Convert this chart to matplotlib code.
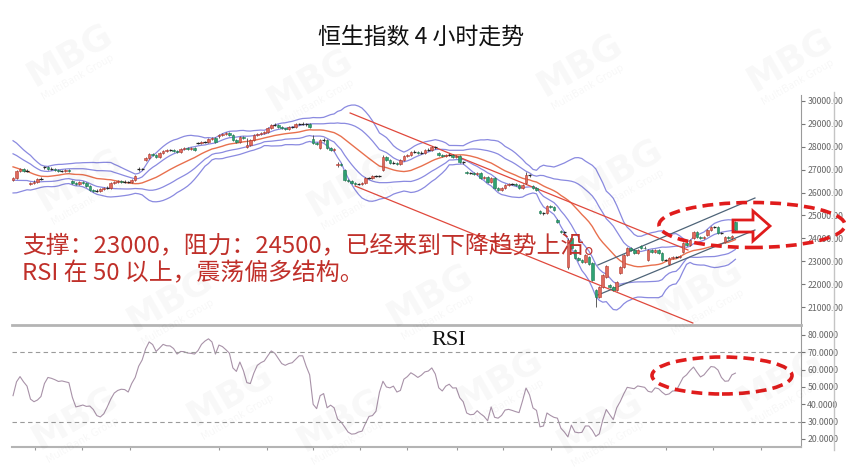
import matplotlib
matplotlib.use("Agg")
import matplotlib.pyplot as plt
from matplotlib.patches import Ellipse, Polygon
from matplotlib.lines import Line2D
import numpy as np
import pandas as pd

title = "恒生指数 4 小时走势"
note_lines = ["支撑：23000，阻力：24500，已经来到下降趋势上沿。",
              "RSI 在 50 以上，震荡偏多结构。"]

# closes before the visible window (only feed the band calculation)
history_closes = [27900, 28050, 27950, 27800, 27700, 27750, 27550, 27400, 27300, 27100,
                  26700, 26600, 26500, 26400, 26500, 26700, 26800, 26650, 26500]

opens = [26560, 26640, 26940, 27030, 26940, 26380, 26420, 26460, 26590, 27110,
         27120, 27030, 27040, 26990, 26940, 26950, 26990, 26520, 26420, 26380,
         26460, 26420, 26290, 26110, 26070, 26080, 26160, 26200, 26210, 26420,
         26460, 26510, 26460, 26470, 26460, 26560, 27020, 27030, 27420, 27510,
         27690, 27640, 27550, 27730, 27820, 27860, 27850, 27820, 27770, 27900,
         27950, 27900, 27940, 28160, 28170, 28210, 28200, 28340, 28380, 28450,
         28520, 28560, 28600, 28510, 28300, 28210, 28430, 27990, 28080, 28300,
         28520, 28560, 28600, 28650, 28820, 28950, 28960, 28870, 28820, 28780,
         28870, 28860, 29000, 28990, 29000, 28990, 28340, 28180, 27950, 28300,
         28290, 27950, 27860, 27210, 27250, 26990, 26550, 26510, 26420, 26380,
         26370, 26420, 26640, 26630, 26720, 26730, 26990, 27550, 27420, 27290,
         27300, 27250, 27420, 27600, 27640, 27770, 27780, 27730, 27740, 27860,
         27870, 27990, 27730, 27640, 27600, 27640, 27650, 27550, 27600, 27340,
         26900, 26860, 26850, 26810, 26860, 26640, 26680, 26460, 26640, 26200,
         26110, 26200, 26330, 26380, 26370, 26330, 26200, 26420, 26770, 26290,
         26200, 25190, 25110, 25100, 25420, 25370, 24810, 24330, 24280, 22750,
         24020, 23490, 23140, 23060, 22970, 23190, 22930, 21750, 21440, 21880,
         22310, 21960, 21880, 21750, 22500, 22750, 23280, 23560, 23490, 23360,
         23680, 23600, 23060, 23490, 23410, 23490, 23360, 23060, 22880, 23140,
         23190, 23180, 23410, 23800, 23710, 24020, 24280, 24060, 24020, 24150,
         24370, 24500, 24500, 24240, 23840, 24060, 24020, 24720]

highs = [26700, 27000, 27090, 27080, 27010, 26480, 26530, 26640, 26660, 27180,
         27160, 27100, 27090, 27040, 27000, 27050, 27040, 26570, 26470, 26520,
         26510, 26460, 26330, 26160, 26140, 26210, 26260, 26270, 26470, 26520,
         26570, 26560, 26530, 26520, 26610, 26780, 27110, 27090, 27570, 27740,
         27750, 27690, 27790, 27880, 27920, 27910, 27900, 27870, 27950, 28010,
         28000, 28000, 27990, 28230, 28270, 28260, 28390, 28440, 28420, 28580,
         28620, 28660, 28650, 28550, 28350, 28480, 28480, 28390, 28350, 28570,
         28620, 28660, 28710, 28870, 29010, 29020, 29000, 28920, 28840, 28930,
         28920, 29060, 29060, 29070, 29050, 29040, 28500, 28230, 28360, 28370,
         28330, 28000, 27960, 27320, 27300, 27040, 26600, 26560, 26470, 26440,
         26480, 26690, 26700, 26780, 26790, 26780, 27650, 27600, 27460, 27360,
         27350, 27470, 27650, 27700, 27820, 27840, 27830, 27800, 27910, 27930,
         28050, 28040, 27780, 27690, 27700, 27710, 27700, 27660, 27640, 27400,
         26950, 26910, 26900, 26920, 26900, 26740, 26720, 26700, 26680, 26250,
         26260, 26380, 26440, 26430, 26420, 26370, 26380, 26880, 26830, 26340,
         26250, 25240, 25170, 25470, 25470, 25420, 24860, 24380, 24340, 24000,
         24070, 23540, 23190, 23110, 23330, 23240, 22980, 21800, 21940, 22450,
         22850, 22010, 21930, 22150, 22800, 23330, 23610, 23610, 23530, 23550,
         23730, 23650, 23540, 23540, 23540, 23530, 23400, 23110, 23190, 23250,
         23240, 23290, 23850, 23850, 23980, 24330, 24320, 24110, 24120, 24420,
         24550, 24560, 24550, 24290, 24110, 24110, 24160, 24770]

lows = [26500, 26600, 26900, 26890, 26880, 26320, 26380, 26420, 26530, 27050,
        26980, 26990, 26940, 26890, 26890, 26910, 26880, 26370, 26330, 26330,
        26370, 26240, 26060, 26010, 26020, 26040, 26120, 26150, 26170, 26370,
        26410, 26410, 26410, 26400, 26420, 26510, 26960, 26970, 27370, 27470,
        27590, 27500, 27510, 27690, 27780, 27800, 27770, 27720, 27730, 27860,
        27850, 27860, 27810, 28110, 28120, 28150, 28160, 28300, 28160, 28400,
        28470, 28520, 28460, 28250, 28160, 28170, 28330, 27950, 28040, 28260,
        28470, 28520, 28560, 28610, 28780, 28900, 28820, 28770, 28730, 28740,
        28810, 28820, 28940, 28940, 28930, 28820, 28130, 28070, 27900, 28230,
        27900, 27810, 27820, 27100, 27150, 26500, 26460, 26370, 26330, 26310,
        26320, 26380, 26580, 26590, 26670, 26670, 26940, 27370, 27240, 27240,
        27200, 27210, 27380, 27560, 27600, 27720, 27680, 27680, 27700, 27810,
        27830, 27920, 27590, 27550, 27560, 27590, 27500, 27510, 27290, 27270,
        26810, 26800, 26760, 26770, 26590, 26600, 26410, 26420, 26150, 26060,
        26070, 26160, 26290, 26310, 26280, 26150, 26160, 26380, 26700, 26150,
        26060, 25060, 25040, 25060, 25320, 25190, 24670, 24230, 24210, 22650,
        23530, 23090, 23010, 22920, 22930, 22830, 22130, 21000, 21390, 21830,
        22260, 21830, 21700, 21710, 22450, 22710, 23240, 23440, 23310, 23320,
        23550, 23530, 23020, 23360, 23370, 23310, 23010, 23000, 22840, 23100,
        23130, 23140, 23370, 23660, 23670, 23980, 24010, 23970, 23980, 24110,
        24330, 24440, 24190, 24180, 23800, 23970, 23980, 24320]

closes = [26640, 26940, 27030, 26940, 26950, 26420, 26460, 26590, 26600, 27120,
          27030, 27040, 26990, 26940, 26950, 26990, 26940, 26420, 26380, 26460,
          26420, 26290, 26110, 26070, 26080, 26160, 26200, 26210, 26420, 26460,
          26510, 26460, 26470, 26460, 26550, 26720, 27030, 27020, 27510, 27690,
          27640, 27550, 27730, 27820, 27860, 27850, 27820, 27770, 27900, 27950,
          27900, 27940, 27860, 28170, 28210, 28200, 28340, 28380, 28210, 28520,
          28560, 28600, 28510, 28300, 28210, 28430, 28380, 28080, 28300, 28520,
          28560, 28600, 28650, 28820, 28950, 28960, 28870, 28820, 28780, 28870,
          28860, 29000, 28990, 29000, 28990, 28870, 28180, 28120, 28300, 28290,
          27950, 27860, 27900, 27250, 27200, 26550, 26510, 26420, 26380, 26370,
          26420, 26640, 26630, 26720, 26730, 26720, 27550, 27420, 27290, 27300,
          27250, 27420, 27600, 27640, 27770, 27780, 27730, 27740, 27860, 27870,
          27990, 27980, 27640, 27600, 27640, 27650, 27550, 27600, 27340, 27330,
          26860, 26850, 26810, 26860, 26640, 26680, 26460, 26640, 26200, 26110,
          26200, 26330, 26380, 26370, 26330, 26200, 26330, 26770, 26760, 26200,
          26110, 25110, 25100, 25420, 25370, 25240, 24720, 24280, 24270, 23930,
          23580, 23140, 23060, 22970, 23280, 22880, 22180, 21440, 21880, 22400,
          22800, 21880, 21750, 22100, 22750, 23280, 23560, 23490, 23360, 23500,
          23600, 23580, 23490, 23410, 23490, 23360, 23060, 23050, 23140, 23190,
          23180, 23230, 23800, 23710, 23930, 24280, 24060, 24020, 24060, 24370,
          24500, 24490, 24240, 24230, 24060, 24020, 24100, 24370]

rsi = [45, 53, 56, 53, 50.5, 43, 41.5, 42.5, 44.5, 52,
       55.5, 55, 54.2, 53.2, 53.5, 53, 52.5, 44, 38.5, 39,
       39.6, 38.8, 39, 37, 33.5, 32.7, 34.5, 38.5, 43, 46.5,
       48, 48.7, 48.5, 47.1, 52, 55.5, 62, 65.6, 72, 76,
       74.5, 70.5, 72.5, 74.6, 73.8, 73.7, 72.2, 69, 70.5, 70.4,
       69.6, 69.4, 69, 71, 74.6, 76.5, 77.8, 76, 69, 74.2,
       73.3, 71.5, 69.5, 61, 59, 64.4, 59.5, 52.5, 52, 58,
       62.5, 64, 65, 68, 70.8, 69.5, 66.5, 63.5, 62.5, 63.5,
       64, 66, 68, 68, 62, 57, 40, 37.5, 45, 46.2,
       38, 39.5, 38, 31.5, 29.8, 27, 24, 22.8, 23, 24,
       24.5, 29, 33, 33.5, 36, 47, 53.3, 50, 49.5, 50.5,
       47.1, 48, 54.5, 56, 58.2, 57, 55.5, 56.8, 58.7, 59.2,
       61, 57.5, 49.5, 47.7, 50.5, 51.6, 49.4, 49.5, 43.8, 41.5,
       35, 34, 34.2, 36.3, 34.5, 33, 30.5, 38.5, 32.5, 32,
       33.6, 36.7, 37.1, 36.5, 35.8, 35.2, 42, 49.4, 45.5, 37.9,
       36.5, 27, 27.5, 35, 33.6, 32.5, 32, 26.2, 24, 21.2,
       28, 24, 23.6, 23.8, 27.5, 27.5, 25, 21.5, 23, 31,
       37, 34, 31.2, 38, 41.6, 46, 49.8, 49.4, 49, 50.6,
       50.2, 49.8, 47.5, 47, 49.5, 49, 47, 45.5, 46, 47.7,
       47.7, 51.5, 55.4, 57, 59.5, 61.5, 58.5, 55.8, 57, 59.5,
       61.8, 61.5, 59.8, 55.5, 53.3, 53.5, 57, 58]

price_ticks = [21000, 22000, 23000, 24000, 25000, 26000, 27000, 28000, 29000, 30000]
rsi_ticks = [20, 30, 40, 50, 60, 70, 80]
time_ticks = [6.3, 19.8, 33.5, 59.0, 72.8, 86.0, 99.4, 112.8, 127.2, 140.4, 154.1, 187.1, 200.6, 214.3]

# trend lines, (candle index, price) end points
down_upper = ([96.6, 193.4], [29476, 23493])
down_lower = ([98.0, 194.8], [26288, 20305])
up_upper = ([167.6, 212.6], [22838, 25764])
up_lower = ([167.6, 212.6], [21528, 24367])

plt.rcParams['font.family'] = ['Noto Sans CJK SC', 'DejaVu Sans']

W, H = 846, 473
fig = plt.figure(figsize=(W / 100, H / 100), dpi=100)


def fx(px):
    return px / W


def fy(py):
    return 1 - py / H


# watermarks
for wx, wy in [(70, 55), (310, 80), (580, 65), (790, 60), (350, 185), (620, 170),
               (170, 300), (430, 295), (700, 290), (230, 395), (500, 380), (780, 380),
               (75, 418), (340, 420), (600, 422), (80, 180)]:
    fig.text(fx(wx), fy(wy), "MBG", fontsize=26, fontweight="bold", color="#000000",
             alpha=0.03, rotation=30, ha="center", va="center", family="DejaVu Sans")
    fig.text(fx(wx + 8), fy(wy + 22), "MultiBank Group", fontsize=7, color="#000000",
             alpha=0.035, rotation=30, ha="center", va="center", family="DejaVu Sans")

n = len(closes)
x = np.arange(n)
o = np.array(opens, float)
h = np.array(highs, float)
l = np.array(lows, float)
c = np.array(closes, float)

ax = fig.add_axes([fx(12), fy(325), fx(801) - fx(12), fy(95) - fy(325)])
ax.patch.set_alpha(0)

# bands
full = pd.Series(history_closes + closes, dtype=float)
mid = full.rolling(20).mean().to_numpy()[len(history_closes):]
sd = full.rolling(20).std(ddof=0).to_numpy()[len(history_closes):]
ax.plot(x, mid + 2 * sd, color="#8a8ae0", lw=0.9)
ax.plot(x, mid + sd, color="#8a8ae0", lw=0.9)
ax.plot(x, mid - sd, color="#8a8ae0", lw=0.9)
ax.plot(x, mid - 2 * sd, color="#8a8ae0", lw=0.9)
ax.plot(x, mid, color="#e8704e", lw=1.0)

ax.plot(*down_upper, color="#e0483c", lw=0.9)
ax.plot(*down_lower, color="#e0483c", lw=0.9)
ax.plot(*up_upper, color="#4e6478", lw=0.9)
ax.plot(*up_lower, color="#4e6478", lw=0.9)

# candles
ax.vlines(x, l, h, color="#444444", lw=0.6, zorder=3)
body = np.abs(c - o)
bottom = np.minimum(o, c)
up = (c > o) & (body >= 20)
dn = (c < o) & (body >= 20)
doji = body < 20
ax.bar(x[up], body[up], bottom=bottom[up], width=0.75, color="#de6a5c",
       edgecolor="#b8392e", lw=0.4, zorder=4)
ax.bar(x[dn], body[dn], bottom=bottom[dn], width=0.75, color="#2fa374",
       edgecolor="#1d7a52", lw=0.4, zorder=4)
ax.hlines(c[doji], x[doji] - 0.45, x[doji] + 0.45, color="#222222", lw=0.9, zorder=4)

ax.set_xlim(-0.3, 225.8)
ax.set_ylim(20218, 30262)
ax.yaxis.tick_right()
ax.set_yticks(price_ticks)
ax.set_yticklabels([f"{v:.2f}" for v in price_ticks])
ax.tick_params(axis="y", labelsize=6.3, colors="#777777", labelcolor="#666666",
               length=3, pad=1.5, width=0.8)
ax.set_xticks([])
for s in ["top", "left", "bottom"]:
    ax.spines[s].set_visible(False)
ax.spines["right"].set_color("#9a9a9a")

# RSI panel
ax2 = fig.add_axes([fx(12), fy(447), fx(801) - fx(12), fy(325) - fy(447)])
ax2.patch.set_alpha(0)
ax2.plot(x, rsi, color="#a892a8", lw=0.8)
ax2.axhline(70, color="#9a9a9a", lw=0.8, ls=(0, (4, 3)))
ax2.axhline(30, color="#9a9a9a", lw=0.8, ls=(0, (4, 3)))
ax2.set_xlim(-0.3, 225.8)
ax2.set_ylim(15.37, 85.77)
ax2.yaxis.tick_right()
ax2.set_yticks(rsi_ticks)
ax2.set_yticklabels([f"{v:.4f}" for v in rsi_ticks])
ax2.tick_params(axis="y", labelsize=6.3, colors="#777777", labelcolor="#666666",
                length=3, pad=1.5, width=0.8)
ax2.set_xticks(time_ticks)
ax2.set_xticklabels([])
ax2.tick_params(axis="x", length=2.5, colors="#999999", width=0.8)
ax2.spines["left"].set_visible(False)
ax2.spines["top"].set_color("#b4b4b4")
ax2.spines["top"].set_linewidth(2)
ax2.spines["bottom"].set_color("#b4b4b4")
ax2.spines["bottom"].set_linewidth(1.5)
ax2.spines["right"].set_color("#9a9a9a")
ax2.text(0.553, 0.87, "RSI", transform=ax2.transAxes, ha="center", va="center",
         fontsize=16, family="Liberation Serif", color="#111111")

# outer frame line on the right
fig.add_artist(Line2D([fx(834), fx(834)], [fy(92), fy(450)], color="#c4c4c4", lw=1))

# titles and notes
fig.text(fx(421), fy(37), title, ha="center", va="center", fontsize=16.5, color="#111111")
fig.text(fx(22), fy(247), note_lines[0], ha="left", va="center", fontsize=17.2, color="#c0302a")
fig.text(fx(22), fy(274), note_lines[1], ha="left", va="center", fontsize=17.2, color="#c0302a")

# highlight marks
fig.add_artist(Ellipse((fx(752), fy(225)), fx(186), 45 / H, transform=fig.transFigure,
                       fill=False, edgecolor="#e01c1c", lw=2.6, ls=(0, (3, 1.7))))
fig.add_artist(Ellipse((fx(722), fy(375.5)), fx(140), 37 / H, transform=fig.transFigure,
                       fill=False, edgecolor="#e01c1c", lw=2.6, ls=(0, (3, 1.7))))
arrow_px = [(733, 220), (753, 220), (753, 211), (770, 226), (753, 241), (753, 232), (733, 232)]
fig.add_artist(Polygon([(fx(px), fy(py)) for px, py in arrow_px], closed=True,
                       transform=fig.transFigure, fill=False, edgecolor="#e01c1c", lw=2))

fig.savefig("out.png", dpi=100)
